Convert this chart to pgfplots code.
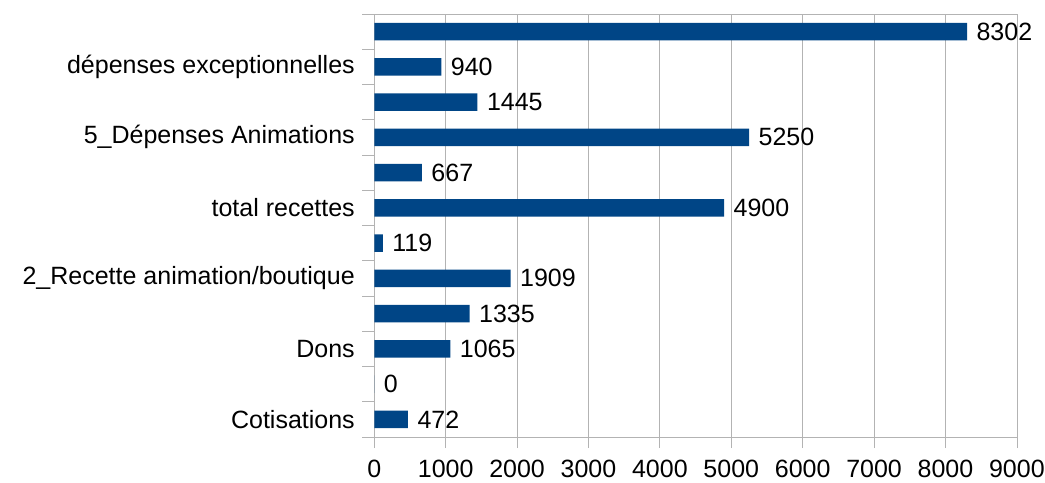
\documentclass[border=0pt]{standalone}
\usepackage{pgfplots}
\pgfplotsset{compat=1.18}
\usepackage{fontspec}
\setmainfont{Liberation Sans}
\definecolor{barblue}{HTML}{004586}
\definecolor{gridgray}{HTML}{B3B3B3}
\begin{document}
\fontsize{25bp}{30bp}\selectfont
\begin{tikzpicture}
\begin{axis}[
    scale only axis,
    width=642.6bp, height=423bp,
    at={(0,0)}, anchor=south west,
    xbar, bar width=17.6bp,
    xmin=0, xmax=9000,
    ymin=-0.5, ymax=11.5,
    xtick={0,1000,...,9000},
    ytick={0,2,4,6,8,10},
    yticklabels={Cotisations,Dons,2\_Recette animation/boutique,total recettes,5\_Dépenses Animations,dépenses exceptionnelles},
    minor ytick={-0.5,0.5,...,11.5},
    xtick pos=bottom, ytick pos=left,
    major tick length=11bp,
    minor tick length=12bp,
    tick align=outside,
    tick style={gridgray, line width=0.8pt},
    every major y tick/.append style={draw=none},
    xmajorgrids, major grid style={gridgray, line width=0.8pt},
    axis line style={gridgray, line width=0.8pt},
    scaled x ticks=false,
    /pgf/number format/assume math mode=true,
    xticklabel style={/pgf/number format/1000 sep={}, yshift=-4bp},
    yticklabel style={xshift=0bp},
    tick label style={font=\fontsize{25bp}{30bp}\selectfont},
    nodes near coords,
    nodes near coords style={font=\fontsize{25bp}{30bp}\selectfont, black, anchor=west, xshift=1bp, /pgf/number format/1000 sep={}},
    every node near coord/.append style={/pgf/number format/assume math mode=true},
]
\addplot[fill=barblue, draw=none] coordinates {
    (472,0) (0,1) (1065,2) (1335,3) (1909,4) (119,5)
    (4900,6) (667,7) (5250,8) (1445,9) (940,10) (8302,11)
};
\end{axis}
\pgfresetboundingbox
\path[use as bounding box] (-374.3bp,-46bp) rectangle (670.7bp,437bp);
\end{tikzpicture}
\end{document}
